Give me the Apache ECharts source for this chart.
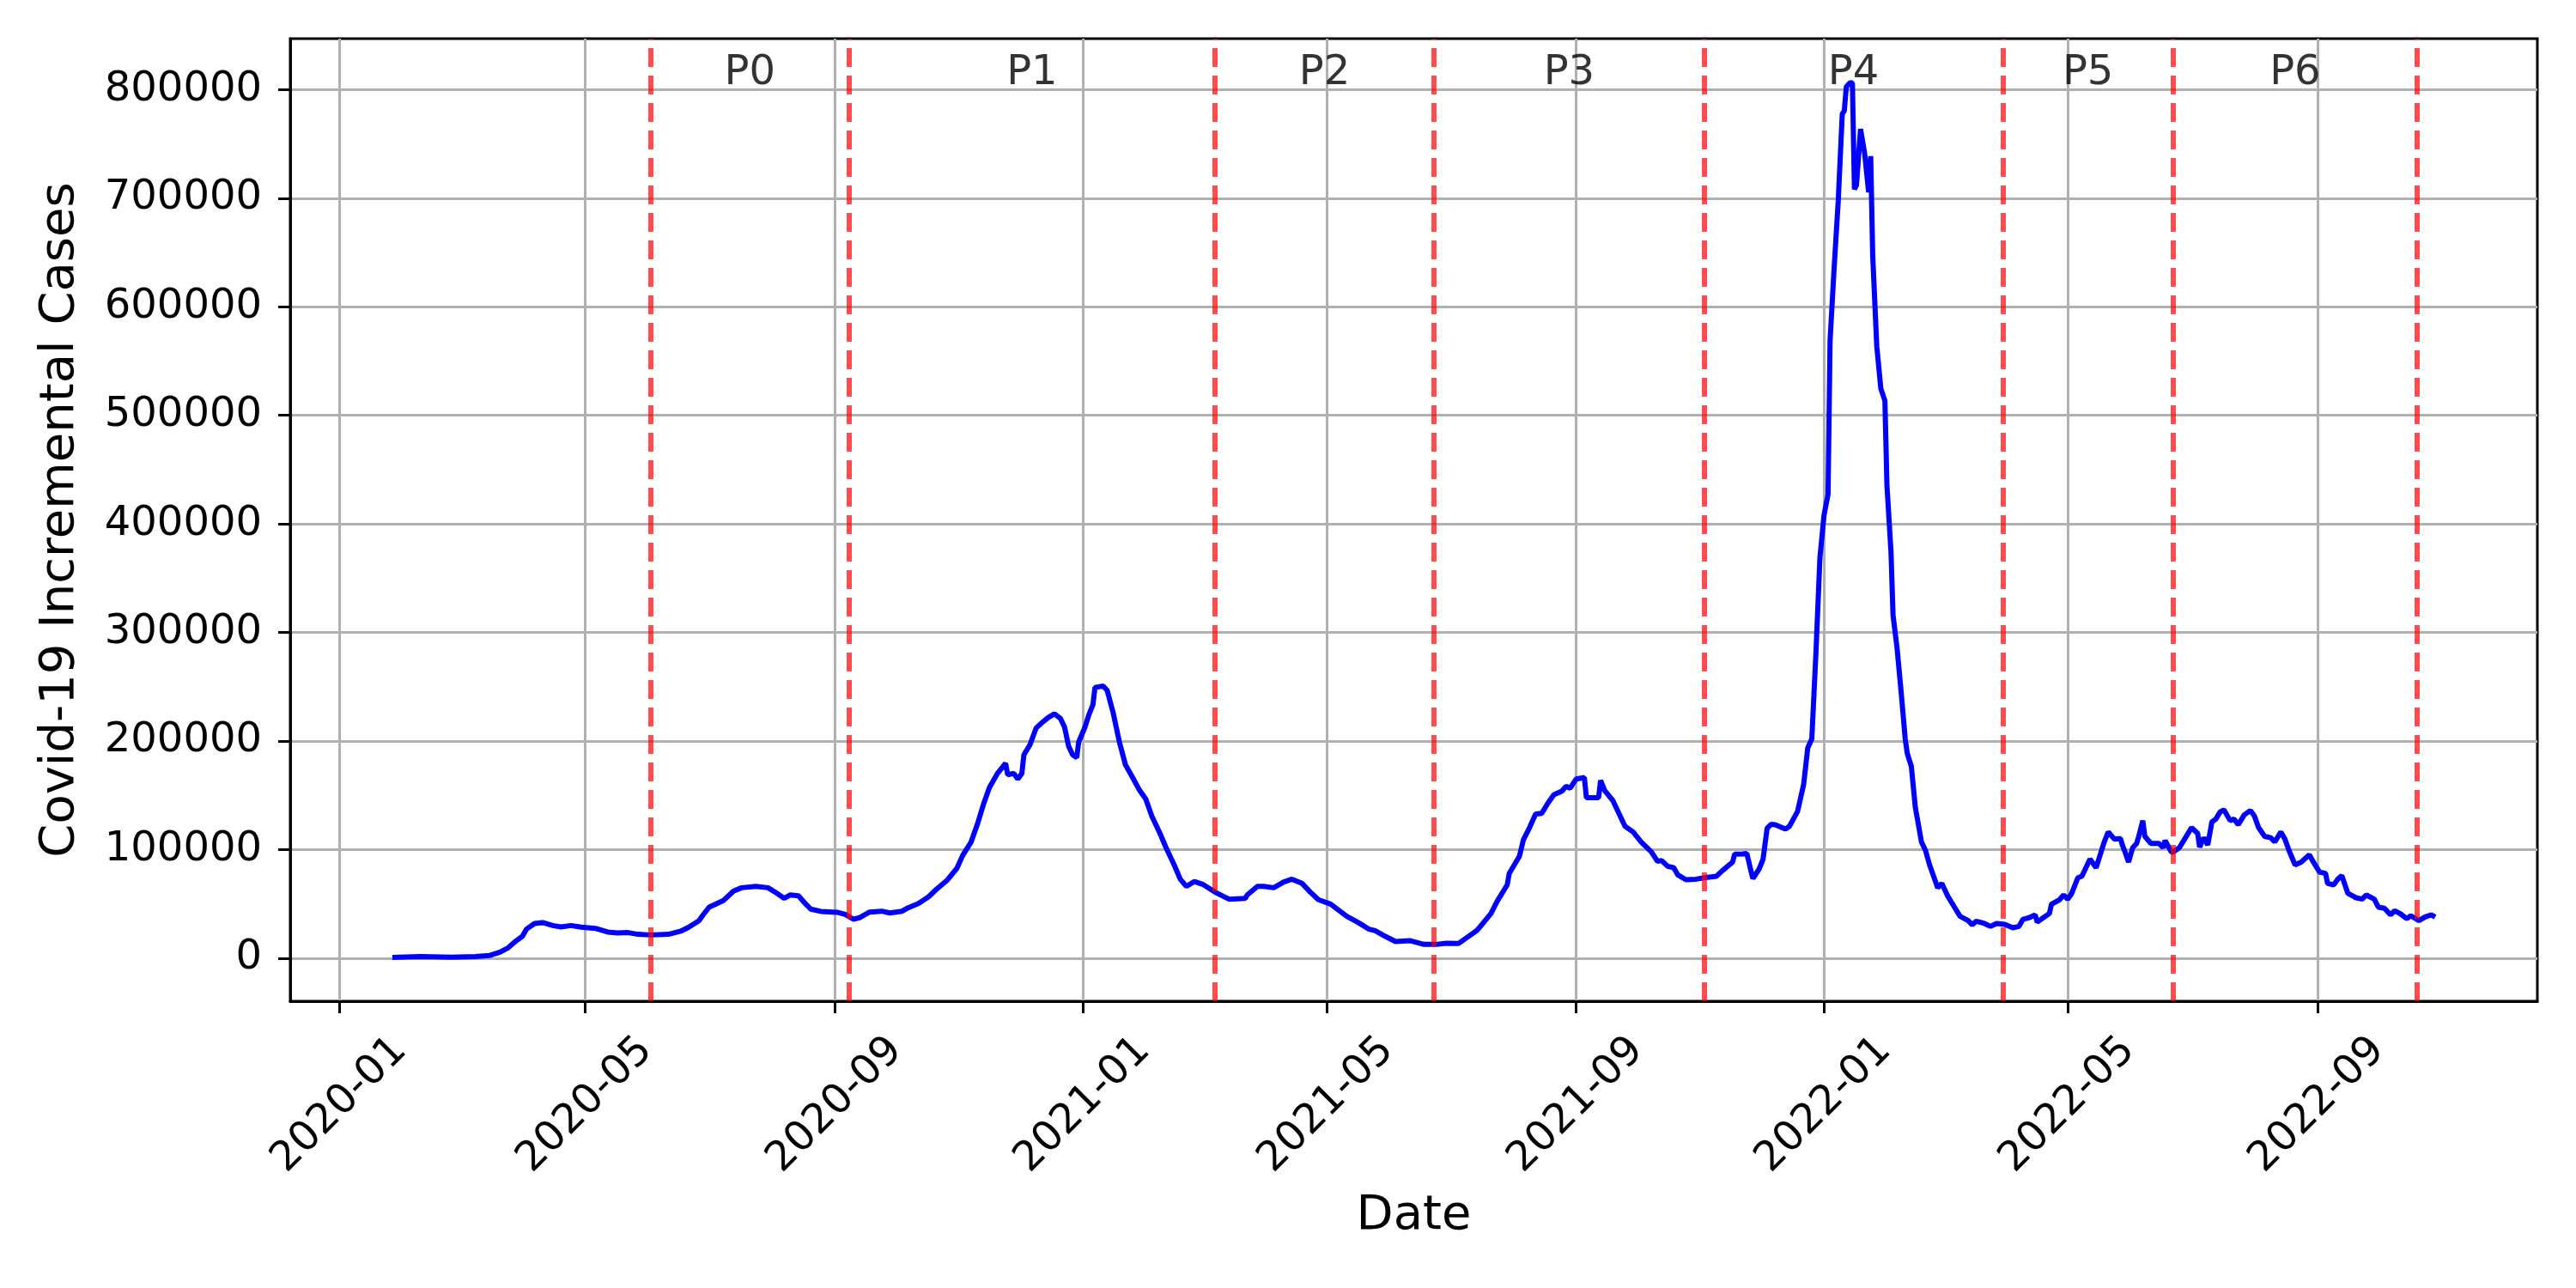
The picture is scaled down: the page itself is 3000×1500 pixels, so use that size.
<!DOCTYPE html>
<html>
<head>
<meta charset="utf-8">
<script src="https://cdn.jsdelivr.net/npm/echarts@6/dist/echarts.min.js"></script>
<style>
  html, body { margin: 0; background: #fff; }
  #chart { width: 3000px; height: 1500px; }
</style>
</head>
<body>
<div id="chart"></div>
<script>
// daily incremental cases
const dates = [
  '2020-01-27','2020-02-10','2020-02-25','2020-03-08','2020-03-15','2020-03-20','2020-03-24','2020-03-28','2020-03-31','2020-04-02',
  '2020-04-06','2020-04-10','2020-04-15','2020-04-19','2020-04-24','2020-04-29','2020-05-06','2020-05-12','2020-05-17','2020-05-22',
  '2020-05-27','2020-06-02','2020-06-11','2020-06-17','2020-06-21','2020-06-26','2020-06-28','2020-07-01','2020-07-08','2020-07-13',
  '2020-07-17','2020-07-24','2020-07-30','2020-08-03','2020-08-07','2020-08-10','2020-08-14','2020-08-17','2020-08-20','2020-08-25',
  '2020-09-02','2020-09-06','2020-09-10','2020-09-13','2020-09-18','2020-09-24','2020-09-28','2020-10-04','2020-10-07','2020-10-12',
  '2020-10-17','2020-10-21','2020-10-26','2020-10-31','2020-11-03','2020-11-07','2020-11-10','2020-11-13','2020-11-16','2020-11-20',
  '2020-11-24','2020-11-25','2020-11-28','2020-11-30','2020-12-02','2020-12-03','2020-12-06','2020-12-09','2020-12-12','2020-12-15',
  '2020-12-18','2020-12-21','2020-12-23','2020-12-25','2020-12-27','2020-12-29','2020-12-30','2021-01-02','2021-01-04','2021-01-06',
  '2021-01-07','2021-01-11','2021-01-13','2021-01-16','2021-01-19','2021-01-22','2021-01-25','2021-01-29','2021-02-01','2021-02-04',
  '2021-02-08','2021-02-11','2021-02-15','2021-02-18','2021-02-21','2021-02-25','2021-03-01','2021-03-07','2021-03-14','2021-03-22',
  '2021-03-23','2021-03-28','2021-03-31','2021-04-05','2021-04-10','2021-04-14','2021-04-19','2021-04-23','2021-04-27','2021-05-03',
  '2021-05-11','2021-05-17','2021-05-22','2021-05-25','2021-05-30','2021-06-04','2021-06-11','2021-06-18','2021-06-24','2021-06-29',
  '2021-07-05','2021-07-09','2021-07-14','2021-07-17','2021-07-21','2021-07-24','2021-07-29','2021-07-30','2021-08-04','2021-08-06',
  '2021-08-09','2021-08-12','2021-08-15','2021-08-18','2021-08-21','2021-08-25','2021-08-27','2021-08-29','2021-09-01','2021-09-05',
  '2021-09-06','2021-09-09','2021-09-12','2021-09-13','2021-09-15','2021-09-19','2021-09-22','2021-09-25','2021-09-29','2021-10-03',
  '2021-10-08','2021-10-11','2021-10-13','2021-10-16','2021-10-19','2021-10-21','2021-10-25','2021-10-30','2021-11-03','2021-11-09',
  '2021-11-12','2021-11-17','2021-11-18','2021-11-22','2021-11-24','2021-11-26','2021-11-27','2021-11-30','2021-12-02','2021-12-04',
  '2021-12-06','2021-12-08','2021-12-13','2021-12-15','2021-12-19','2021-12-22','2021-12-24','2021-12-26','2021-12-28','2021-12-30',
  '2022-01-01','2022-01-03','2022-01-04','2022-01-06','2022-01-08','2022-01-10','2022-01-11','2022-01-12','2022-01-14','2022-01-15',
  '2022-01-16','2022-01-17','2022-01-19','2022-01-21','2022-01-23','2022-01-24','2022-01-25','2022-01-27','2022-01-29','2022-01-31',
  '2022-02-01','2022-02-03','2022-02-04','2022-02-06','2022-02-08','2022-02-10','2022-02-11','2022-02-13','2022-02-15','2022-02-18',
  '2022-02-20','2022-02-22','2022-02-24','2022-02-26','2022-02-28','2022-03-03','2022-03-06','2022-03-09','2022-03-13','2022-03-15',
  '2022-03-17','2022-03-21','2022-03-24','2022-03-27','2022-03-31','2022-04-04','2022-04-07','2022-04-09','2022-04-12','2022-04-15',
  '2022-04-16','2022-04-19','2022-04-22','2022-04-23','2022-04-27','2022-04-29','2022-05-01','2022-05-03','2022-05-06','2022-05-08',
  '2022-05-11','2022-05-12','2022-05-15','2022-05-17','2022-05-19','2022-05-21','2022-05-24','2022-05-27','2022-05-28','2022-05-29',
  '2022-05-31','2022-06-02','2022-06-04','2022-06-05','2022-06-07','2022-06-08','2022-06-11','2022-06-15','2022-06-17','2022-06-18',
  '2022-06-21','2022-06-22','2022-06-25','2022-06-28','2022-07-01','2022-07-04','2022-07-05','2022-07-07','2022-07-09','2022-07-11',
  '2022-07-13','2022-07-15','2022-07-17','2022-07-20','2022-07-22','2022-07-24','2022-07-27','2022-07-30','2022-08-01','2022-08-03',
  '2022-08-06','2022-08-09','2022-08-11','2022-08-14','2022-08-16','2022-08-18','2022-08-21','2022-08-24','2022-08-28','2022-08-30',
  '2022-09-02','2022-09-05','2022-09-06','2022-09-09','2022-09-11','2022-09-13','2022-09-16','2022-09-20','2022-09-23','2022-09-25',
  '2022-09-29','2022-10-01','2022-10-04','2022-10-07','2022-10-09','2022-10-12','2022-10-15','2022-10-17','2022-10-21','2022-10-24',
  '2022-10-27','2022-10-29'
];
const cases = [
  600,1500,800,1500,2500,5500,9500,16000,20000,26600,
  31900,32700,30000,28700,30000,28500,27400,24000,23200,23500,
  21900,21300,21900,24800,28500,34500,39800,46900,53000,61700,
  64800,66100,64800,60100,55100,58200,57400,50900,45100,43000,
  42200,40300,35800,37200,42400,43200,41600,43200,46400,50300,
  56400,63500,71400,82700,95100,107000,122800,141200,157000,170200,
  179400,168900,170200,165000,170200,187300,196600,211900,217100,221600,
  225000,220800,212900,195300,187300,184700,199200,212400,224200,233500,
  249300,250600,246600,225600,199200,178100,168100,154400,146500,130700,
  114900,101700,85900,72700,66100,70600,68000,60900,54300,55100,
  58200,66100,66100,64800,70100,72700,68800,60900,53800,49800,
  38500,32400,26600,25300,20000,15300,16100,12600,12600,13700,
  13400,18700,25300,31900,41100,52200,67500,78000,93800,109100,
  120200,132800,133300,142600,150500,153900,158400,156500,165000,166300,
  147800,147800,147800,163600,154400,145200,133300,121500,116200,107000,
  97800,89100,89900,84600,83300,76700,72200,72700,74000,75400,
  80600,88500,95700,95900,96400,80600,73300,81900,91200,119600,
  123300,122800,118800,121500,135200,160200,193600,201900,279800,368800,
  407800,427200,569100,635900,697000,777700,780500,802700,806700,806000,
  708200,712000,763800,741600,705400,738800,647000,563500,524600,513500,
  435600,374400,316000,285400,245000,201900,188700,176800,138600,107000,
  99100,85900,75400,64800,68800,56900,47700,38500,34500,30600,
  34000,31900,29200,31900,31100,27900,29200,35800,37200,39800,
  33200,37200,41100,49500,53800,58200,54300,59600,74000,75400,
  87200,91200,83300,95100,107000,116200,109600,110100,103800,99100,
  88500,101700,105700,112200,126700,112200,105700,105700,101700,108300,
  97800,97800,101700,110900,120200,114900,102200,110900,104300,125400,
  128100,134600,136500,126700,128100,122800,132000,136000,130700,120200,
  112200,110900,107000,116200,109600,99100,85900,88500,95100,88500,
  79300,78000,68800,67500,72700,75900,59600,55600,54300,58200,
  54300,46900,45900,39800,43700,40600,36400,39000,34500,37900,
  39800,37900
];
// period boundaries (red dashed lines) and their names
const periodBounds = ['2020-06-02','2020-09-08','2021-03-07','2021-06-23','2021-11-03','2022-03-30','2022-06-22','2022-10-20'];
const periodNames = ['P0','P1','P2','P3','P4','P5','P6'];
const xTickLabels = ['2020-01','2020-05','2020-09','2021-01','2021-05','2021-09','2022-01','2022-05','2022-09'];
const yTickValues = [0,100000,200000,300000,400000,500000,600000,700000,800000];

const FONT = 'DejaVu Sans';

function toTs(s) {
  const p = s.split('-').map(Number);
  return Date.UTC(p[0], p[1] - 1, p[2] || 1);
}

const seriesData = dates.map((d, i) => [toTs(d), cases[i]]);

// matplotlib style 5% autoscale margins
const t0 = toTs(dates[0]);
const t1 = toTs(dates[dates.length - 1]);
const xPad = (t1 - t0) * 0.05;
const yHi = Math.max(...cases);
const yLo = Math.min(...cases);
const yPad = (yHi - yLo) * 0.05;

const labelData = periodNames.map((n, i) => ({
  name: n,
  value: [(toTs(periodBounds[i]) + toTs(periodBounds[i + 1])) / 2, yHi]
}));

const chart = echarts.init(document.getElementById('chart'), null, { renderer: 'canvas' });

const option = {
  backgroundColor: '#fff',
  animation: false,
  textStyle: { fontFamily: FONT },
  grid: {
    left: 338, right: 45, top: 45, bottom: 334,
    show: true, borderColor: '#000', borderWidth: 3,
    outerBoundsMode: 'none'
  },
  xAxis: {
    type: 'value',
    min: t0 - xPad,
    max: t1 + xPad,
    name: 'Date',
    nameLocation: 'middle',
    nameGap: 222,
    nameMoveOverlap: false,
    nameTextStyle: { fontSize: 56, color: '#000', fontFamily: FONT },
    axisLine: { show: true, onZero: false, lineStyle: { color: '#000', width: 3 } },
    axisTick: { show: true, length: 14, lineStyle: { color: '#000', width: 3 }, customValues: xTickLabels.map(toTs) },
    axisLabel: {
      customValues: xTickLabels.map(toTs),
      rotate: 45,
      align: 'center',
      verticalAlign: 'middle',
      margin: 121,
      fontSize: 48,
      color: '#000',
      fontFamily: FONT,
      formatter: function (v) {
        const d = new Date(v);
        return d.getUTCFullYear() + '-' + String(d.getUTCMonth() + 1).padStart(2, '0');
      }
    },
    splitLine: { show: true, lineStyle: { color: '#b0b0b0', width: 3 } }
  },
  yAxis: {
    type: 'value',
    min: yLo - yPad,
    max: yHi + yPad,
    name: 'Covid-19 Incremental Cases',
    nameLocation: 'middle',
    nameGap: 240,
    nameMoveOverlap: false,
    nameTextStyle: { fontSize: 56, color: '#000', fontFamily: FONT },
    axisLine: { show: true, onZero: false, lineStyle: { color: '#000', width: 3 } },
    axisTick: { show: true, length: 14, lineStyle: { color: '#000', width: 3 }, customValues: yTickValues },
    axisLabel: {
      customValues: yTickValues,
      margin: 33,
      fontSize: 48,
      color: '#000',
      fontFamily: FONT,
      formatter: function (v) { return String(v); }
    },
    splitLine: { show: true, lineStyle: { color: '#b0b0b0', width: 3 } }
  },
  series: [
    {
      type: 'line',
      data: seriesData,
      showSymbol: false,
      symbol: 'none',
      lineStyle: { color: '#0000ff', width: 6 },
      z: 3,
      markLine: {
        silent: true,
        symbol: 'none',
        label: { show: false },
        lineStyle: { color: 'rgba(255,0,0,0.7)', width: 6, type: [22, 10] },
        data: periodBounds.map(d => ({ xAxis: toTs(d) }))
      }
    },
    {
      type: 'scatter',
      data: labelData,
      symbolSize: 0,
      silent: true,
      z: 5,
      label: {
        show: true,
        position: 'inside',
        offset: [0, -10],
        formatter: '{b}',
        fontSize: 48,
        color: '#000',
        fontFamily: FONT
      }
    }
  ]
};

chart.setOption(option);
</script>
</body>
</html>
